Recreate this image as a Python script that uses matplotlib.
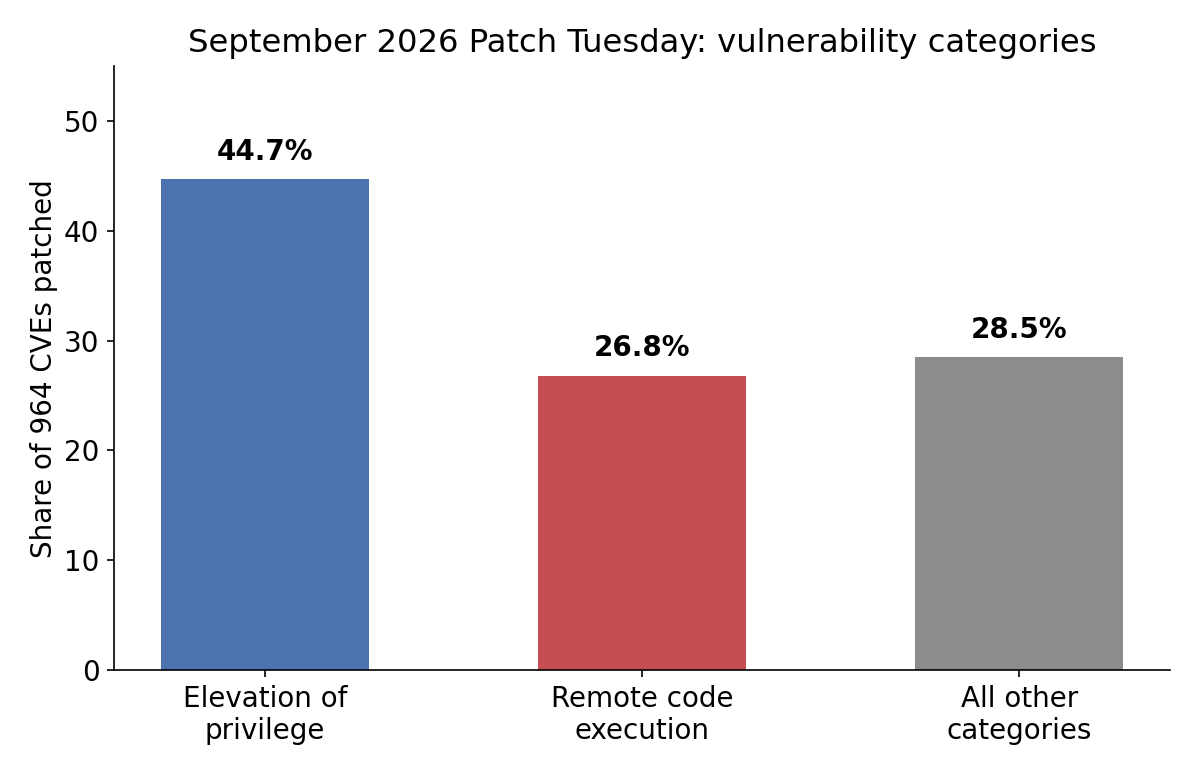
import matplotlib
matplotlib.use("Agg")
import matplotlib.pyplot as plt

categories = ["Elevation of\nprivilege", "Remote code\nexecution", "All other\ncategories"]
shares = [44.7, 26.8, 28.5]
colors = ["#4c72b0", "#c44e52", "#8c8c8c"]

fig = plt.figure(figsize=(8, 5.2), dpi=150)
ax = fig.add_axes([0.095, 0.141, 0.88, 0.774])
x = range(len(categories))
bars = ax.bar(x, shares, width=0.55, color=colors)
for b, v in zip(bars, shares):
    ax.annotate(f"{v:.1f}%", (b.get_x() + b.get_width() / 2, v),
                xytext=(0, 6.5), textcoords="offset points",
                ha="center", va="bottom", fontsize=13.3, fontweight="bold")
ax.set_xticks(list(x))
ax.set_xticklabels(categories, fontsize=13.3)
ax.tick_params(axis="y", labelsize=13.3)
ax.set_xlim(-0.4, 2.4)
ax.set_ylim(0, 55)
ax.set_ylabel("Share of 964 CVEs patched", fontsize=13.3, labelpad=3)
ax.set_title("September 2026 Patch Tuesday: vulnerability categories", fontsize=15.5, pad=7)
ax.spines["top"].set_visible(False)
ax.spines["right"].set_visible(False)
fig.savefig("out.png", dpi=150)
